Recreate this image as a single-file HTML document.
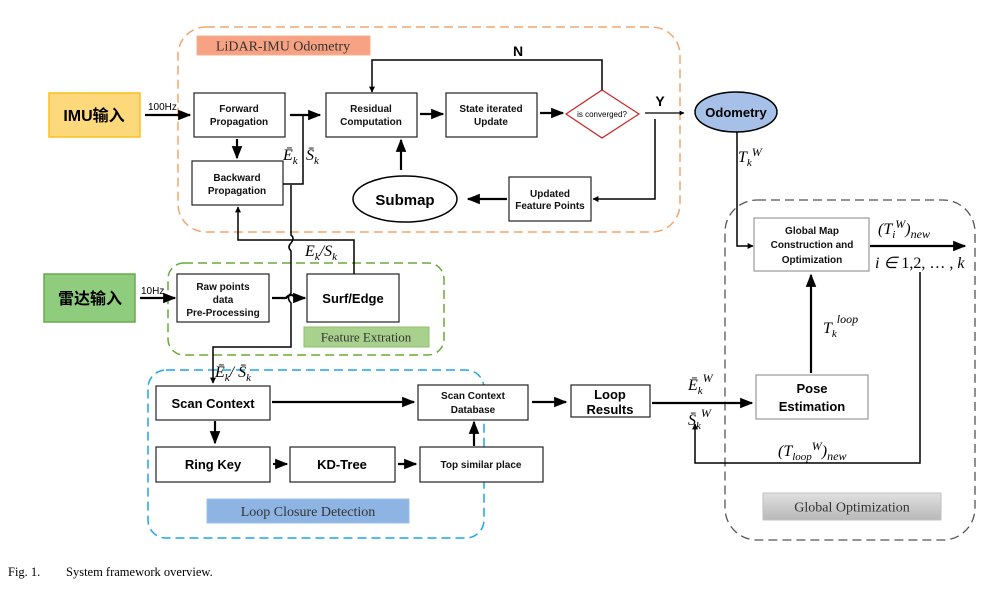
<!DOCTYPE html>
<html><head><meta charset="utf-8"><style>
html,body{margin:0;padding:0;background:#fff;}
svg{display:block;}
.s{font-family:"Liberation Sans","Noto Sans CJK SC",sans-serif;}
.m{font-family:"Liberation Serif",serif;font-style:italic;}
.t{font-family:"Liberation Serif",serif;}
</style></head><body>
<svg width="1000" height="595" viewBox="0 0 1000 595" xmlns="http://www.w3.org/2000/svg">
<defs>
<marker id="a" viewBox="0 0 10 10" refX="9" refY="5" markerWidth="4" markerHeight="4" orient="auto"><path d="M0,0L10,5L0,10z" fill="#000"/></marker>
<marker id="b" viewBox="0 0 10 10" refX="9" refY="5" markerWidth="6" markerHeight="6" orient="auto"><path d="M0,1L10,5L0,9z" fill="#000"/></marker>
<linearGradient id="g" x1="0" y1="0" x2="0" y2="1"><stop offset="0" stop-color="#e0e0e0"/><stop offset="1" stop-color="#b8b8b8"/></linearGradient>
</defs>
<!-- containers -->
<rect x="178" y="27" width="502" height="205" rx="28" fill="none" stroke="#f4a66e" stroke-width="1.5" stroke-dasharray="9,5"/>
<rect x="168" y="263" width="276" height="92" rx="16" fill="none" stroke="#6aaa3a" stroke-width="1.5" stroke-dasharray="9,5"/>
<rect x="148" y="370" width="336" height="168" rx="18" fill="none" stroke="#1fa6e8" stroke-width="1.5" stroke-dasharray="9,5"/>
<rect x="725" y="200" width="250" height="340" rx="32" fill="none" stroke="#555" stroke-width="1.3" stroke-dasharray="9,5"/>
<!-- labels -->
<rect x="197" y="36" width="173" height="19" fill="#f8a284" stroke="#f4b090"/>
<text x="283" y="50.5" class="t" font-size="14" text-anchor="middle" fill="#333">LiDAR-IMU Odometry</text>
<rect x="304" y="327" width="125" height="20" fill="#a9d18e" stroke="#8fc070"/>
<text x="366" y="341.5" class="t" font-size="13" text-anchor="middle" fill="#333">Feature Extration</text>
<rect x="207" y="499" width="202" height="24" fill="#8db4e2" stroke="#9cc0ea"/>
<text x="308" y="516" class="t" font-size="14" text-anchor="middle" fill="#333">Loop Closure Detection</text>
<rect x="763" y="493" width="178" height="27" fill="url(#g)" stroke="#c0c0c0"/>
<text x="852" y="511.5" class="t" font-size="14" text-anchor="middle" fill="#333">Global Optimization</text>
<!-- inputs -->
<rect x="49" y="93" width="91" height="44" fill="#fed97c" stroke="#fbbf1e" stroke-width="1.5"/>
<text x="94" y="121" class="s" font-size="16" font-weight="bold" text-anchor="middle">IMU输入</text>
<rect x="44" y="274" width="91" height="48" fill="#8fcc7e" stroke="#6aaa4c" stroke-width="1.5"/>
<text x="90" y="304" class="s" font-size="16" font-weight="bold" text-anchor="middle">雷达输入</text>
<g class="s" fill="#fff" stroke="#222" stroke-width="1.2">
<rect x="194" y="93" width="91" height="44"/>
<rect x="326" y="93" width="91" height="44"/>
<rect x="446" y="93" width="91" height="44"/>
<rect x="192" y="161" width="91" height="44"/>
<rect x="509" y="177" width="82" height="44"/>
<rect x="177" y="274" width="92" height="48"/>
<rect x="307" y="274" width="92" height="48"/>
<rect x="156" y="386" width="114" height="34"/>
<rect x="418" y="385" width="110" height="35"/>
<rect x="571" y="385" width="79" height="32"/>
<rect x="156" y="447" width="114" height="35"/>
<rect x="290" y="447" width="105" height="35"/>
<rect x="420" y="447" width="123" height="35"/>
</g>
<rect x="754" y="218" width="115" height="53" fill="#fff" stroke="#999" stroke-width="1.2"/>
<rect x="756" y="375" width="112" height="44" fill="#fff" stroke="#999" stroke-width="1.2"/>
<path d="M602,90L639,114L602,138L566,114z" fill="#fff" stroke="#d02020" stroke-width="1.2"/>
<ellipse cx="405" cy="199" rx="52" ry="23" fill="#fff" stroke="#000" stroke-width="1.5"/>
<ellipse cx="736" cy="112" rx="41" ry="20" fill="#a7c0e8" stroke="#000" stroke-width="1.5"/>
<!-- box text -->
<g class="s" font-size="10" font-weight="bold" text-anchor="middle" fill="#111">
<text x="239" y="112">Forward</text><text x="239" y="125">Propagation</text>
<text x="371" y="112">Residual</text><text x="371" y="125">Computation</text>
<text x="491" y="112">State iterated</text><text x="491" y="125">Update</text>
<text x="237" y="181">Backward</text><text x="237" y="194">Propagation</text>
<text x="550" y="197">Updated</text><text x="550" y="209">Feature Points</text>
<text x="223" y="290">Raw points</text><text x="223" y="303">data</text><text x="223" y="316">Pre-Processing</text>
<text x="473" y="399">Scan Context</text><text x="473" y="413">Database</text>
<text x="481" y="468">Top similar place</text>
<text x="812" y="234">Global Map</text><text x="812" y="248">Construction and</text><text x="812" y="263">Optimization</text>
</g>
<text x="602" y="117" class="s" font-size="8" text-anchor="middle">is converged?</text>
<g class="s" font-size="13" font-weight="bold" text-anchor="middle">
<text x="353" y="303">Surf/Edge</text>
<text x="213" y="408">Scan Context</text>
<text x="610" y="399">Loop</text><text x="610" y="414">Results</text>
<text x="213" y="469">Ring Key</text>
<text x="342" y="469">KD-Tree</text>
<text x="812" y="393">Pose</text><text x="812" y="411">Estimation</text>
<text x="405" y="205" font-size="15">Submap</text>
<text x="736" y="117" font-size="13">Odometry</text>
<text x="518" y="56" font-size="14">N</text>
<text x="660" y="106" font-size="14">Y</text>
</g>
<text x="148" y="110" class="s" font-size="10">100Hz</text>
<text x="141" y="294" class="s" font-size="10">10Hz</text>
<!-- connectors -->
<g fill="none" stroke="#000">
<path d="M145,115H190" stroke-width="2.2" marker-end="url(#b)"/>
<path d="M290,115H320" stroke-width="2.2" marker-end="url(#b)"/>
<path d="M420,114H443" stroke-width="2.2" marker-end="url(#b)"/>
<path d="M540,113H563" stroke-width="2.2" marker-end="url(#b)"/>
<path d="M602,90V60H372V92" stroke-width="1.5" marker-end="url(#a)"/>
<path d="M645,113H684" stroke-width="1.2" marker-end="url(#a)"/>
<path d="M655,119V199H593" stroke-width="1.5" marker-end="url(#a)"/>
<path d="M507,199H468" stroke-width="2.2" marker-end="url(#b)"/>
<path d="M401,170V140" stroke-width="2.2" marker-end="url(#b)"/>
<path d="M237,139V158" stroke-width="2.2" marker-end="url(#b)"/>
<path d="M283,184H303V115" stroke-width="1.5"/>
<path d="M291,185V235q4,3 0,8q-4,4 0,8V293q-5,5 0,10V347H213V383" stroke-width="1.5" marker-end="url(#a)"/>
<path d="M354,274V240H238V207" stroke-width="1.5" marker-end="url(#a)"/>
<path d="M140,298H175" stroke-width="2.2" marker-end="url(#b)"/>
<path d="M272,298H286q5,-6 10,0H305" stroke-width="2.2" marker-end="url(#b)"/>
<path d="M272,402H414" stroke-width="2.2" marker-end="url(#b)"/>
<path d="M532,402H566" stroke-width="2.2" marker-end="url(#b)"/>
<path d="M652,403H752" stroke-width="2.2" marker-end="url(#b)"/>
<path d="M215,421V443" stroke-width="2.2" marker-end="url(#b)"/>
<path d="M273,464H287" stroke-width="2.2" marker-end="url(#b)"/>
<path d="M398,464H416" stroke-width="2.2" marker-end="url(#b)"/>
<path d="M474,446V422" stroke-width="2.2" marker-end="url(#b)"/>
<path d="M737,132V246H753" stroke-width="1.5" marker-end="url(#a)"/>
<path d="M870,246H965" stroke-width="2.2" marker-end="url(#b)"/>
<path d="M811,373V275" stroke-width="2.2" marker-end="url(#b)"/>
<path d="M920,272V463H695V424" stroke-width="1.5" marker-end="url(#a)"/>
</g>
<!-- math labels -->
<g class="m" font-size="16">
<text x="283" y="160">Ē<tspan font-size="11" dy="4">k</tspan></text>
<text x="306" y="160" dy="0">S̄<tspan font-size="11" dy="4">k</tspan></text>
<text x="305" y="256">E<tspan font-size="11" dy="4">k</tspan><tspan dy="-4">/S</tspan><tspan font-size="11" dy="4">k</tspan></text>
<text x="215" y="377">Ē<tspan font-size="11" dy="4">k</tspan><tspan dy="-4">/ S̄</tspan><tspan font-size="11" dy="4">k</tspan></text>
<text x="738" y="162">T<tspan font-size="11" dy="4">k</tspan><tspan font-size="12" dy="-10">W</tspan></text>
<text x="878" y="234">(T<tspan font-size="11" dy="4">i</tspan><tspan font-size="12" dy="-10">W</tspan><tspan dy="6">)</tspan><tspan font-size="12" dy="4">new</tspan></text>
<text x="875" y="268">i ∈ <tspan font-style="normal">1,2, … ,</tspan> k</text>
<text x="823" y="333">T<tspan font-size="11" dy="4">k</tspan><tspan font-size="12" dy="-14">loop</tspan></text>
<text x="688" y="390">Ē<tspan font-size="11" dy="4">k</tspan><tspan font-size="12" dy="-12">W</tspan></text>
<text x="688" y="425">S̄<tspan font-size="11" dy="4">k</tspan><tspan font-size="12" dy="-12">W</tspan></text>
<text x="778" y="456">(T<tspan font-size="11" dy="4">loop</tspan><tspan font-size="12" dy="-10">W</tspan><tspan dy="6">)</tspan><tspan font-size="12" dy="4">new</tspan></text>
</g>
<text x="8" y="576" class="t" font-size="12.5">Fig. 1.<tspan x="66">System framework overview.</tspan></text>
</svg>
</body></html>
